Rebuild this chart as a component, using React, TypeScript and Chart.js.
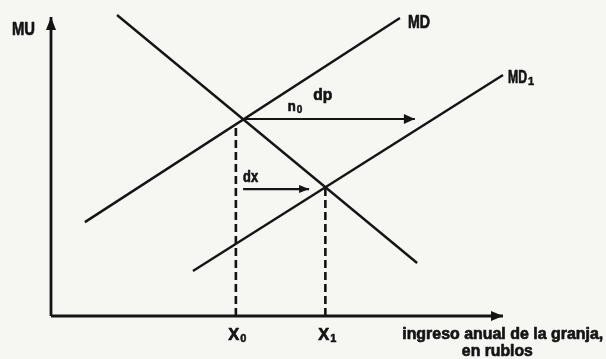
import React, { useEffect, useRef } from "react";
import { Chart, registerables } from "chart.js";

Chart.register(...registerables);

// ---- data (income units on x, marginal utility units on y) ----
const MU_X = [1.46, 8.1];
const MU_Y = [10.1, 1.78];
const MD_X = [0.75, 7.72];
const MD_Y = [3.15, 10.0];
const MD1_X = [3.14, 10.0];
const MD1_Y = [1.51, 8.09];
const X0_VAL = 4.09;
const X0_TOP = 6.43;
const X1_VAL = 6.07;
const X1_TOP = 4.32;
const DP_X = [4.26, 8.05];
const DP_Y = 6.61;
const DX_X = [4.25, 5.71];
const DX_Y = 4.26;
const X_AXIS_MAX = 10;
const Y_AXIS_MAX = 10.03;

// ---- text labels ----
const LABEL_TEXTS = ["MU", "MD", "MD", "n", "dp", "dx", "X", "X", "ingreso anual de la granja,", "en rublos"];
const LABEL_SUBS = ["", "", "1", "0", "", "", "0", "1", "", ""];
const LABEL_X = [-0.863, 7.9, 10.11, 5.24, 5.8, 4.25, 3.92, 5.91, 7.77, 9.09];
const LABEL_Y = [9.43, 9.66, 7.82, 6.88, 7.25, 4.5, -0.81, -0.81, -0.77, -1.34];

const LABEL_STYLE = [
  { size: 18, w: 23, sub: 0 },
  { size: 18, w: 22, sub: 0 },
  { size: 18, w: 19, sub: 11 },
  { size: 15, w: 8, sub: 10 },
  { size: 16, w: 19, sub: 0 },
  { size: 16, w: 15, sub: 0 },
  { size: 17, w: 11, sub: 11 },
  { size: 17, w: 11, sub: 11 },
  { size: 17, w: 201, sub: 0 },
  { size: 17, w: 71, sub: 0 },
];

const INK = "#141414";
const BG = "#f6f6f3";
const FONT = '"Liberation Sans", Arial, sans-serif';

const zip = (xs: number[], ys: number[]) => xs.map((x, i) => ({ x, y: ys[i] }));

const decorPlugin = {
  id: "decor",
  beforeDraw(chart: any) {
    const ctx = chart.ctx;
    ctx.save();
    ctx.fillStyle = BG;
    ctx.fillRect(0, 0, chart.width, chart.height);
    ctx.restore();
  },
  afterDatasetsDraw(chart: any) {
    const ctx = chart.ctx;
    const xs = chart.scales.x;
    const ys = chart.scales.y;
    ctx.save();
    ctx.fillStyle = INK;
    ctx.strokeStyle = INK;
    chart.data.datasets.forEach((ds: any) => {
      if (!ds.arrowHead) return;
      const pts = ds.data;
      const a = pts[pts.length - 2];
      const b = pts[pts.length - 1];
      const ax = xs.getPixelForValue(a.x);
      const ay = ys.getPixelForValue(a.y);
      const bx = xs.getPixelForValue(b.x);
      const by = ys.getPixelForValue(b.y);
      const ang = Math.atan2(by - ay, bx - ax);
      const L = ds.arrowHead.len;
      const W = ds.arrowHead.half;
      const c = Math.cos(ang);
      const s = Math.sin(ang);
      ctx.beginPath();
      ctx.moveTo(bx, by);
      ctx.lineTo(bx - L * c + W * s, by - L * s - W * c);
      ctx.lineTo(bx - L * c - W * s, by - L * s + W * c);
      ctx.closePath();
      ctx.fill();
    });
    ctx.textBaseline = "alphabetic";
    ctx.textAlign = "left";
    ctx.lineJoin = "round";
    LABEL_TEXTS.forEach((t, i) => {
      const st = LABEL_STYLE[i];
      const px = xs.getPixelForValue(LABEL_X[i]);
      const py = ys.getPixelForValue(LABEL_Y[i]);
      ctx.font = `bold ${st.size}px ${FONT}`;
      const natural = ctx.measureText(t).width;
      const w = Math.min(natural, st.w);
      ctx.lineWidth = 0.7;
      ctx.fillText(t, px, py, st.w);
      ctx.strokeText(t, px, py, st.w);
      if (LABEL_SUBS[i]) {
        ctx.font = `bold ${st.sub}px ${FONT}`;
        ctx.lineWidth = 0.5;
        ctx.fillText(LABEL_SUBS[i], px + w + 1, py + 2);
        ctx.strokeText(LABEL_SUBS[i], px + w + 1, py + 2);
      }
    });
    ctx.restore();
  },
};

export default function App() {
  const ref = useRef<HTMLCanvasElement | null>(null);

  useEffect(() => {
    if (!ref.current) return;
    const line = (data: any[], extra: any = {}) => ({
      data,
      showLine: true,
      borderColor: INK,
      backgroundColor: INK,
      borderWidth: 2.4,
      pointRadius: 0,
      pointHoverRadius: 0,
      fill: false,
      tension: 0,
      clip: false,
      ...extra,
    });
    const chart = new Chart(ref.current, {
      type: "scatter",
      data: {
        datasets: [
          line([{ x: 0, y: 0 }, { x: 0, y: Y_AXIS_MAX }], { borderWidth: 2.8, arrowHead: { len: 13, half: 5 } }),
          line([{ x: 0, y: 0 }, { x: X_AXIS_MAX, y: 0 }], { borderWidth: 2.8, arrowHead: { len: 12, half: 5 } }),
          line(zip(MU_X, MU_Y)),
          line(zip(MD_X, MD_Y)),
          line(zip(MD1_X, MD1_Y)),
          line([{ x: X0_VAL, y: 0 }, { x: X0_VAL, y: X0_TOP }], { borderWidth: 2.6, borderDash: [8, 4] }),
          line([{ x: X1_VAL, y: 0 }, { x: X1_VAL, y: X1_TOP }], { borderWidth: 2.6, borderDash: [8, 4] }),
          line(zip(DP_X, [DP_Y, DP_Y]), { borderWidth: 2.2, arrowHead: { len: 11, half: 5 } }),
          line(zip(DX_X, [DX_Y, DX_Y]), { borderWidth: 2.2, arrowHead: { len: 10, half: 4 } }),
        ] as any,
      },
      options: {
        animation: false,
        responsive: true,
        maintainAspectRatio: false,
        events: [],
        layout: { padding: { left: 51, right: 103, top: 18, bottom: 43 } },
        scales: {
          x: { type: "linear", min: 0, max: 10, display: false },
          y: { type: "linear", min: 0, max: 10, display: false },
        },
        plugins: {
          legend: { display: false },
          tooltip: { enabled: false },
        },
      },
      plugins: [decorPlugin],
    });
    return () => chart.destroy();
  }, []);

  return (
    <div style={{ position: "absolute", left: 0, top: 0, width: 606, height: 359 }}>
      <canvas ref={ref} />
    </div>
  );
}
